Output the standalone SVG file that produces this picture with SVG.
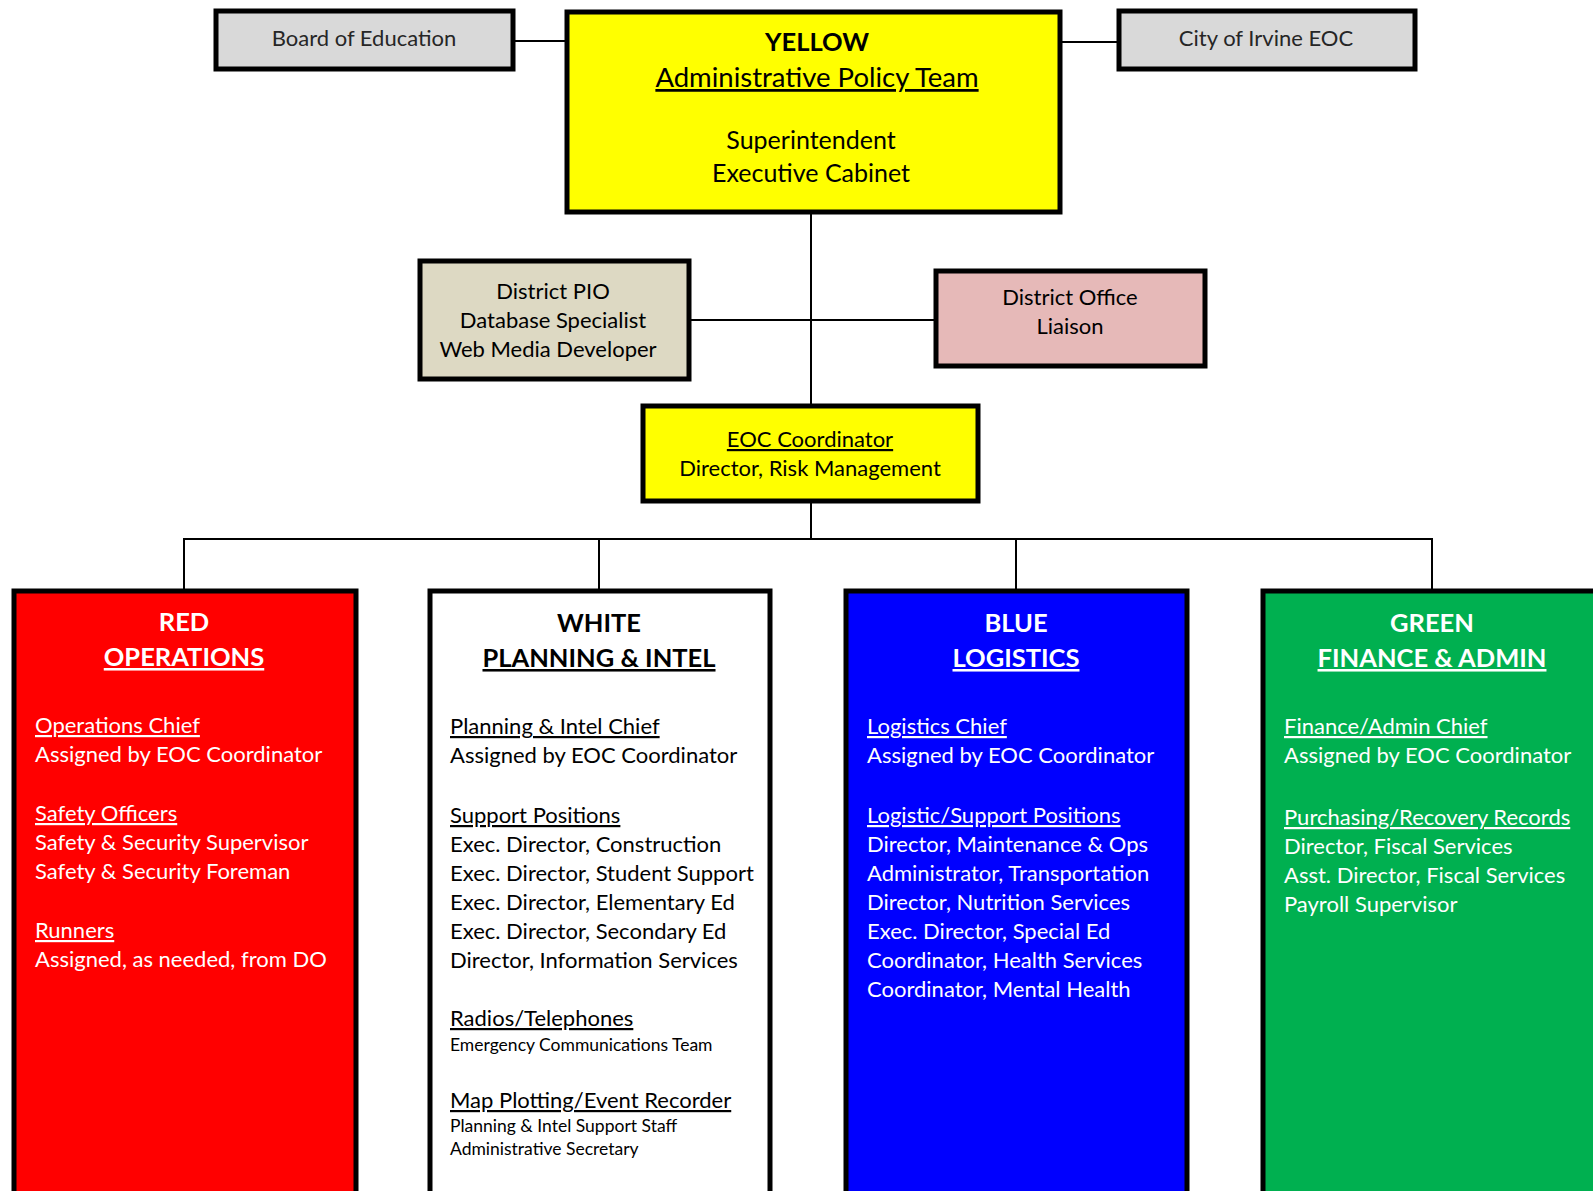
<svg xmlns="http://www.w3.org/2000/svg" width="1593" height="1191" viewBox="0 0 1593 1191">
<style>
text{font-family:Lato,"Open Sans","Liberation Sans",sans-serif;font-size:22px;fill:#000}
.c{text-anchor:middle}
.u{text-decoration:underline}
.b{font-weight:bold;font-size:25.5px}
.w{fill:#fff}
.g{fill:#262626}
.s{font-size:17.5px}
.box{stroke:#000;stroke-width:5}
.ln{stroke:#000;stroke-width:2;fill:none}
</style>
<g id="connectors">
<line class="ln" x1="514" y1="41" x2="565" y2="41"/>
<line class="ln" x1="1061" y1="42" x2="1117" y2="42"/>
<line class="ln" x1="811" y1="213" x2="811" y2="404"/>
<line class="ln" x1="690" y1="320" x2="934" y2="320"/>
<line class="ln" x1="811" y1="502" x2="811" y2="539"/>
<polyline class="ln" points="184,589 184,539 1432,539 1432,589"/>
<line class="ln" x1="599" y1="539" x2="599" y2="589"/>
<line class="ln" x1="1016" y1="539" x2="1016" y2="589"/>
</g>
<g id="board">
<rect class="box" x="216" y="11" width="297" height="58" fill="#D9D9D9"/>
<text class="c g" x="364" y="46">Board of Education</text>
</g>
<g id="yellow">
<rect class="box" x="567" y="12" width="493" height="200" fill="#FFFF00"/>
<text class="c b" x="817" y="51">YELLOW</text>
<text class="c u" x="817" y="87" style="font-size:27.5px">Administrative Policy Team</text>
<text class="c" x="811" y="149" style="font-size:25px">Superintendent</text>
<text class="c" x="811" y="182" style="font-size:25px">Executive Cabinet</text>
</g>
<g id="city">
<rect class="box" x="1119" y="11" width="296" height="58" fill="#D9D9D9"/>
<text class="c g" x="1266" y="46">City of Irvine EOC</text>
</g>
<g id="pio">
<rect class="box" x="420" y="261" width="269" height="118" fill="#DDD9C3"/>
<text class="c" x="553" y="299">District PIO</text>
<text class="c" x="553" y="328">Database Specialist</text>
<text class="c" x="548" y="357">Web Media Developer</text>
</g>
<g id="liaison">
<rect class="box" x="936" y="271" width="269" height="95" fill="#E6B9B8"/>
<text class="c" x="1070" y="305">District Office</text>
<text class="c" x="1070" y="334">Liaison</text>
</g>
<g id="eoc">
<rect class="box" x="643" y="406" width="335" height="95" fill="#FFFF00"/>
<text class="c u" x="810" y="447">EOC Coordinator</text>
<text class="c" x="810" y="476">Director, Risk Management</text>
</g>
<g id="red">
<rect class="box" x="14" y="591" width="342" height="620" fill="#FF0000"/>
<text class="c b w" x="184" y="631">RED</text>
<text class="c b w u" x="184" y="666">OPERATIONS</text>
<text class="w u" x="35" y="733">Operations Chief</text>
<text class="w" x="35" y="762">Assigned by EOC Coordinator</text>
<text class="w u" x="35" y="821">Safety Officers</text>
<text class="w" x="35" y="850">Safety &amp; Security Supervisor</text>
<text class="w" x="35" y="879">Safety &amp; Security Foreman</text>
<text class="w u" x="35" y="938">Runners</text>
<text class="w" x="35" y="967">Assigned, as needed, from DO</text>
</g>
<g id="white">
<rect class="box" x="430" y="591" width="340" height="620" fill="#FFFFFF"/>
<text class="c b" x="599" y="632">WHITE</text>
<text class="c b u" x="599" y="667">PLANNING &amp; INTEL</text>
<text class="u" x="450" y="734">Planning &amp; Intel Chief</text>
<text x="450" y="763">Assigned by EOC Coordinator</text>
<text class="u" x="450" y="823">Support Positions</text>
<text x="450" y="852">Exec. Director, Construction</text>
<text x="450" y="881">Exec. Director, Student Support</text>
<text x="450" y="910">Exec. Director, Elementary Ed</text>
<text x="450" y="939">Exec. Director, Secondary Ed</text>
<text x="450" y="968">Director, Information Services</text>
<text class="u" x="450" y="1026">Radios/Telephones</text>
<text class="s" x="450" y="1051">Emergency Communications Team</text>
<text class="u" x="450" y="1108">Map Plotting/Event Recorder</text>
<text class="s" x="450" y="1132">Planning &amp; Intel Support Staff</text>
<text class="s" x="450" y="1155">Administrative Secretary</text>
</g>
<g id="blue">
<rect class="box" x="846" y="591" width="341" height="620" fill="#0000FF"/>
<text class="c b w" x="1016" y="632">BLUE</text>
<text class="c b w u" x="1016" y="667">LOGISTICS</text>
<text class="w u" x="867" y="734">Logistics Chief</text>
<text class="w" x="867" y="763">Assigned by EOC Coordinator</text>
<text class="w u" x="867" y="823">Logistic/Support Positions</text>
<text class="w" x="867" y="852">Director, Maintenance &amp; Ops</text>
<text class="w" x="867" y="881">Administrator, Transportation</text>
<text class="w" x="867" y="910">Director, Nutrition Services</text>
<text class="w" x="867" y="939">Exec. Director, Special Ed</text>
<text class="w" x="867" y="968">Coordinator, Health Services</text>
<text class="w" x="867" y="997">Coordinator, Mental Health</text>
</g>
<g id="green">
<rect class="box" x="1263" y="591" width="340" height="620" fill="#00B050"/>
<text class="c b w" x="1432" y="632">GREEN</text>
<text class="c b w u" x="1432" y="667">FINANCE &amp; ADMIN</text>
<text class="w u" x="1284" y="734">Finance/Admin Chief</text>
<text class="w" x="1284" y="763">Assigned by EOC Coordinator</text>
<text class="w u" x="1284" y="825">Purchasing/Recovery Records</text>
<text class="w" x="1284" y="854">Director, Fiscal Services</text>
<text class="w" x="1284" y="883">Asst. Director, Fiscal Services</text>
<text class="w" x="1284" y="912">Payroll Supervisor</text>
</g>
</svg>
